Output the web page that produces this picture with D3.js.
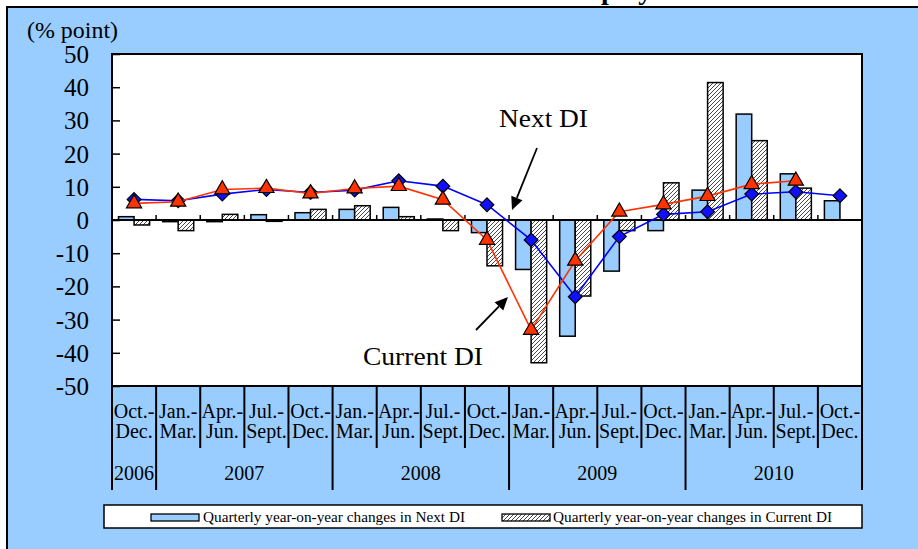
<!DOCTYPE html>
<html>
<head>
<meta charset="utf-8">
<script src="https://cdn.jsdelivr.net/npm/d3@7"></script>
<style>
  html, body { margin: 0; padding: 0; background: #ffffff; }
  svg { display: block; }
  text { font-family: "Liberation Serif", "Times New Roman", serif; fill: #000; }
</style>
</head>
<body>
<svg id="chart" width="918" height="549"></svg>
<script>
// Quarter labels (two lines each), Oct.-Dec. 2006 through Oct.-Dec. 2010
const quarterTop = ["Oct.-", "Jan.-", "Apr.-", "Jul.-", "Oct.-", "Jan.-", "Apr.-", "Jul.-", "Oct.-",
                    "Jan.-", "Apr.-", "Jul.-", "Oct.-", "Jan.-", "Apr.-", "Jul.-", "Oct.-"];
const quarterBottom = ["Dec.", "Mar.", "Jun.", "Sept.", "Dec.", "Mar.", "Jun.", "Sept.", "Dec.",
                       "Mar.", "Jun.", "Sept.", "Dec.", "Mar.", "Jun.", "Sept.", "Dec."];
const years = ["2006", "2007", "2008", "2009", "2010"];
const quartersPerYear = [1, 4, 4, 4, 4];

// Quarterly year-on-year changes (% point)
const nextChange = [1.0, -0.5, -0.5, 1.6, 2.2, 3.2, 3.8, 0.3, -3.8, -14.9, -35.0, -15.4, -3.2, 9.0, 31.9, 13.9, 5.8];
const currentChange = [-1.5, -3.2, 1.7, -0.4, 3.2, 4.3, 1.0, -3.2, -13.8, -43.0, -22.9, -3.2, 11.2, 41.4, 23.9, 9.6, null];

// DI levels
const nextDI = [6.2, 5.8, 7.8, 9.2, 8.3, 9.0, 11.8, 10.2, 4.6, -6.0, -23.1, -5.0, 1.7, 2.5, 7.8, 8.5, 7.3];
const currentDI = [5.0, 5.5, 9.2, 9.6, 8.0, 9.5, 10.2, 6.1, -6.0, -33.1, -12.3, 2.5, 4.7, 7.2, 10.8, 11.8, null];

const yTicks = [50, 40, 30, 20, 10, 0, -10, -20, -30, -40, -50];
const legendLabels = ["Quarterly year-on-year changes in Next DI", "Quarterly year-on-year changes in Current DI"];

const svg = d3.select("#chart");
const W = 918, H = 549;
const plot = { left: 112, right: 862, top: 54, bottom: 386 };

const idx = d3.range(quarterTop.length);
const x0 = d3.scaleBand().domain(idx).range([plot.left, plot.right]).padding(0);
const x1 = d3.scaleBand().domain(["next", "current"]).range([0, x0.bandwidth()]).paddingInner(0).paddingOuter(0.42);
const y = d3.scaleLinear().domain([-50, 50]).range([plot.bottom, plot.top]);

// hatch pattern for the Current DI bars
const defs = svg.append("defs");
const pat = defs.append("pattern").attr("id", "hatch").attr("patternUnits", "userSpaceOnUse")
  .attr("width", 4).attr("height", 4);
pat.append("rect").attr("width", 4).attr("height", 4).attr("fill", "#ffffff");
pat.append("path").attr("d", "M-1,1 l2,-2 M0,4 l4,-4 M3,5 l2,-2")
  .attr("stroke", "#4a4a4a").attr("stroke-width", 1);

// page background and frame
svg.append("rect").attr("width", W).attr("height", H).attr("fill", "#ffffff");
svg.append("rect").attr("x", 7).attr("y", 7).attr("width", W).attr("height", H).attr("fill", "#99ccff")
  .attr("stroke", "#000").attr("stroke-width", 2);

// heading above the frame
svg.append("text").attr("x", 559).attr("y", -1).attr("font-size", 28).attr("font-weight", "bold")
  .text("Employment DI");

// plot area
svg.append("rect").attr("x", plot.left).attr("y", plot.top)
  .attr("width", plot.right - plot.left).attr("height", plot.bottom - plot.top).attr("fill", "#ffffff");

// bars
const barData = idx.flatMap(i => [
  { i, key: "next", v: nextChange[i] },
  { i, key: "current", v: currentChange[i] }
]).filter(d => d.v !== null);

svg.append("g").selectAll("rect").data(barData).join("rect")
  .attr("x", d => x0(d.i) + x1(d.key))
  .attr("width", x1.bandwidth())
  .attr("y", d => y(Math.max(0, d.v)))
  .attr("height", d => Math.abs(y(d.v) - y(0)))
  .attr("fill", d => d.key === "next" ? "#99ccff" : "url(#hatch)")
  .attr("stroke", "#000").attr("stroke-width", 1.5);

// zero line and ticks at quarter boundaries
svg.append("line").attr("x1", plot.left).attr("x2", plot.right).attr("y1", y(0)).attr("y2", y(0))
  .attr("stroke", "#000").attr("stroke-width", 2);
svg.append("g").selectAll("line").data(idx.slice(1)).join("line")
  .attr("x1", d => x0(d)).attr("x2", d => x0(d))
  .attr("y1", y(0)).attr("y2", y(0) - 5)
  .attr("stroke", "#000").attr("stroke-width", 1.5);

// DI lines and markers
const cx = i => x0(i) + x0.bandwidth() / 2;
const line = d3.line().defined(d => d.v !== null).x(d => cx(d.i)).y(d => y(d.v));
const nextPts = idx.map(i => ({ i, v: nextDI[i] }));
const curPts = idx.map(i => ({ i, v: currentDI[i] }));

svg.append("path").datum(nextPts).attr("d", line).attr("fill", "none")
  .attr("stroke", "#0000ff").attr("stroke-width", 1.6);
svg.append("g").selectAll("path").data(nextPts.filter(d => d.v !== null)).join("path")
  .attr("d", d3.symbol(d3.symbolDiamond2, 120))
  .attr("transform", d => `translate(${cx(d.i)},${y(d.v)})`)
  .attr("fill", "#1010ff").attr("stroke", "#000").attr("stroke-width", 1.2);

svg.append("path").datum(curPts).attr("d", line).attr("fill", "none")
  .attr("stroke", "#ff3300").attr("stroke-width", 1.6);
svg.append("g").selectAll("path").data(curPts.filter(d => d.v !== null)).join("path")
  .attr("d", d3.symbol(d3.symbolTriangle, 100))
  .attr("transform", d => `translate(${cx(d.i)},${y(d.v)})`)
  .attr("fill", "#ff3300").attr("stroke", "#000").attr("stroke-width", 1.2);

// plot border
svg.append("rect").attr("x", plot.left).attr("y", plot.top)
  .attr("width", plot.right - plot.left).attr("height", plot.bottom - plot.top)
  .attr("fill", "none").attr("stroke", "#000").attr("stroke-width", 2);

// y axis: ticks inside the plot, labels outside
const yAxis = d3.axisLeft(y).tickValues(yTicks).tickSizeInner(-8).tickSizeOuter(0).tickPadding(23)
  .tickFormat(d => String(d));
const gy = svg.append("g").attr("transform", `translate(${plot.left},0)`).call(yAxis);
gy.select(".domain").remove();
gy.selectAll(".tick line").attr("stroke", "#000").attr("stroke-width", 1.5);
gy.selectAll(".tick text").attr("font-family", "Liberation Serif").attr("font-size", 25).attr("fill", "#000")
  .attr("dy", "0.34em");

svg.append("text").attr("x", 27).attr("y", 38).attr("font-size", 23)
  .attr("textLength", 91).attr("lengthAdjust", "spacingAndGlyphs").text("(% point)");

// category axis below the plot
const axisBottomY = 490, quarterLineBottom = 448;
const boundaries = idx.map(i => x0(i)).concat([plot.right]);
const yearStarts = Array.from(d3.cumsum([0].concat(quartersPerYear))).slice(0, -1);
const yearBoundaryIdx = new Set(yearStarts.concat([idx.length]));

svg.append("g").selectAll("line").data(d3.range(boundaries.length)).join("line")
  .attr("x1", k => boundaries[k]).attr("x2", k => boundaries[k])
  .attr("y1", plot.bottom)
  .attr("y2", k => yearBoundaryIdx.has(k) ? axisBottomY : quarterLineBottom)
  .attr("stroke", "#000").attr("stroke-width", 2);

const qLabels = svg.append("g").attr("font-size", 20).attr("text-anchor", "middle");
qLabels.selectAll("text.top").data(idx).join("text").attr("class", "top")
  .attr("x", i => cx(i)).attr("y", 418).text(i => quarterTop[i]);
qLabels.selectAll("text.bot").data(idx).join("text").attr("class", "bot")
  .attr("x", i => cx(i)).attr("y", 438).text(i => quarterBottom[i]);

svg.append("g").attr("font-size", 20).attr("text-anchor", "middle")
  .selectAll("text").data(years).join("text")
  .attr("x", (d, k) => {
    const a = boundaries[yearStarts[k]], b = boundaries[yearStarts[k] + quartersPerYear[k]];
    return (a + b) / 2;
  })
  .attr("y", 480)
  .text(d => d);

// annotations
function arrow(xa, ya, xb, yb) {
  const ang = Math.atan2(yb - ya, xb - xa), L = 13, Wd = 6;
  const bx = xb - L * Math.cos(ang), by = yb - L * Math.sin(ang);
  svg.append("line").attr("x1", xa).attr("y1", ya).attr("x2", bx).attr("y2", by)
    .attr("stroke", "#000").attr("stroke-width", 1.8);
  const px = -Math.sin(ang) * Wd, py = Math.cos(ang) * Wd;
  svg.append("path").attr("d", `M${xb},${yb}L${bx + px},${by + py}L${bx - px},${by - py}Z`).attr("fill", "#000");
}
svg.append("text").attr("x", 499).attr("y", 127).attr("font-size", 25)
  .attr("textLength", 89).attr("lengthAdjust", "spacingAndGlyphs").text("Next DI");
arrow(537, 148, 512, 210);
svg.append("text").attr("x", 363).attr("y", 365).attr("font-size", 25)
  .attr("textLength", 120).attr("lengthAdjust", "spacingAndGlyphs").text("Current DI");
arrow(476, 330, 508, 297);

// legend
const lg = svg.append("g");
lg.append("rect").attr("x", 104).attr("y", 505).attr("width", 758).attr("height", 23)
  .attr("fill", "#ffffff").attr("stroke", "#000").attr("stroke-width", 1.5);
const legendItems = [
  { sx: 151, tx: 203, fill: "#99ccff", label: legendLabels[0], len: 262 },
  { sx: 502, tx: 553, fill: "url(#hatch)", label: legendLabels[1], len: 279 }
];
legendItems.forEach(it => {
  lg.append("rect").attr("x", it.sx).attr("y", 514).attr("width", 48).attr("height", 7)
    .attr("fill", it.fill).attr("stroke", "#000").attr("stroke-width", 1.3);
  lg.append("text").attr("x", it.tx).attr("y", 522).attr("font-size", 14)
    .attr("textLength", it.len).attr("lengthAdjust", "spacingAndGlyphs").text(it.label);
});
</script>
</body>
</html>
